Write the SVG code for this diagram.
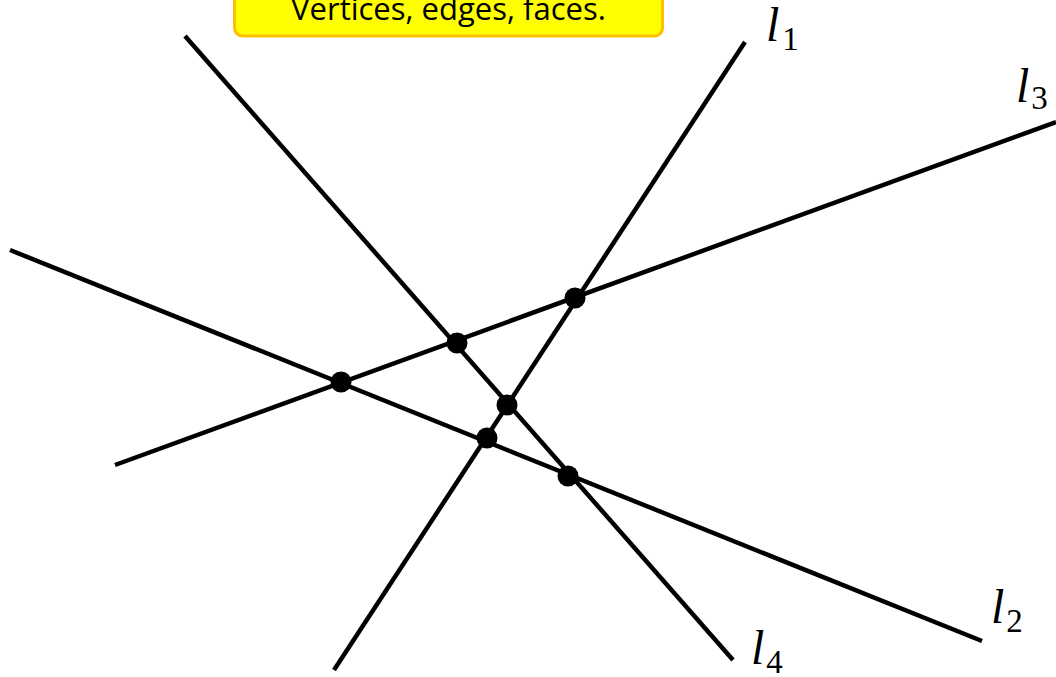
<svg xmlns="http://www.w3.org/2000/svg" width="1056" height="677" viewBox="0 0 1056 677">
<style>
.ln{stroke:#000;stroke-width:4.5;fill:none}
.v{fill:#000}
.lbl{font-family:"Liberation Serif",serif;font-style:italic;font-size:48px;fill:#000}
.sub{font-style:normal;font-size:33px}
.cap{font-family:"Open Sans","Liberation Sans",sans-serif;font-size:31px;fill:#000;text-anchor:middle}
</style>
<rect width="1056" height="677" fill="#fff"/>
<g id="caption">
<rect x="234.5" y="-20" width="428" height="56" rx="8" fill="#FFFF00" stroke="#FFC000" stroke-width="3"/>
<text class="cap" x="448.5" y="20">Vertices, edges, faces.</text>
</g>
<g id="connectors">
<line id="line-l1" class="ln" x1="334" y1="670" x2="745" y2="42"/>
<line id="line-l2" class="ln" x1="10" y1="250" x2="982" y2="641"/>
<line id="line-l3" class="ln" x1="115" y1="465" x2="1056" y2="122"/>
<line id="line-l4" class="ln" x1="185" y1="36" x2="733" y2="660"/>
</g>
<g id="vertices">
<circle id="v1" class="v" cx="341" cy="382" r="10.5"/>
<circle id="v2" class="v" cx="457" cy="343" r="10.5"/>
<circle id="v3" class="v" cx="575" cy="298" r="10.5"/>
<circle id="v4" class="v" cx="507" cy="405" r="10.5"/>
<circle id="v5" class="v" cx="487" cy="438" r="10.5"/>
<circle id="v6" class="v" cx="568" cy="476" r="10.5"/>
</g>
<g id="label-l1"><text class="lbl" x="766" y="41">l<tspan class="sub" dx="3" dy="9">1</tspan></text></g>
<g id="label-l3"><text class="lbl" x="1016" y="102">l<tspan class="sub" dx="2" dy="7">3</tspan></text></g>
<g id="label-l2"><text class="lbl" x="991" y="623">l<tspan class="sub" dx="2" dy="9">2</tspan></text></g>
<g id="label-l4"><text class="lbl" x="751" y="664">l<tspan class="sub" dx="2" dy="9">4</tspan></text></g>
</svg>
